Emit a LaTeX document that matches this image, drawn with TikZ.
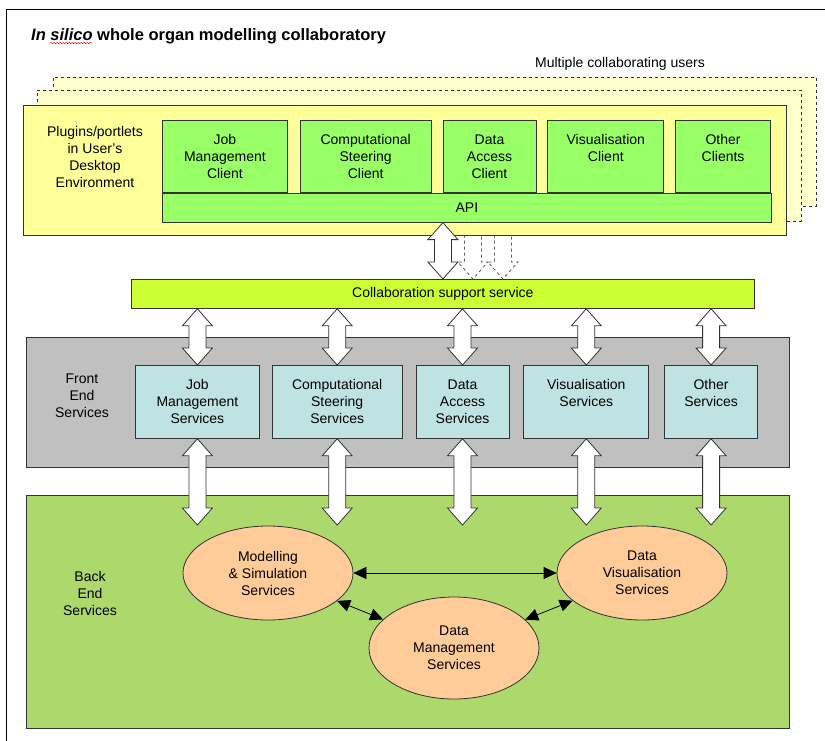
\documentclass[tikz,border=0pt]{standalone}
\usepackage{fontspec}
\setmainfont{Liberation Sans}
\usepackage{tikz}
\usetikzlibrary{arrows.meta,positioning,shapes.geometric,calc,decorations.pathmorphing}
\definecolor{userfill}{HTML}{FFFF99}
\definecolor{ghostfill}{HTML}{FFFFCC}
\definecolor{clientgreen}{HTML}{99FF66}
\definecolor{collabgreen}{HTML}{CCFF33}
\definecolor{frontgrey}{HTML}{C0C0C0}
\definecolor{svccyan}{HTML}{BFE3E3}
\definecolor{backgreen}{HTML}{ADD86C}
\definecolor{peach}{HTML}{FFCC99}
\definecolor{bk80}{HTML}{333333}
\newcommand{\boxfont}{\fontsize{14}{17}\selectfont}
\tikzset{
  panel/.style={rectangle, draw=bk80, fill=#1, line width=0.8pt,
    anchor=north west, inner sep=0pt},
  ghostbox/.style={rectangle, draw=bk80, dashed, fill=ghostfill,
    line width=0.8pt, anchor=north west, inner sep=0pt},
  clientbox/.style={rectangle, draw=bk80, fill=clientgreen, line width=0.8pt,
    minimum height=72pt, font=\boxfont, align=center, inner sep=0pt},
  svcbox/.style={rectangle, draw=bk80, fill=svccyan, line width=0.8pt,
    minimum height=73pt, font=\boxfont, align=center, inner sep=0pt},
  svcellipse/.style={ellipse, draw=bk80, fill=peach, line width=0.8pt,
    minimum width=170pt, minimum height=94pt, font=\boxfont, align=center,
    inner sep=0pt},
  sidelabel/.style={font=\boxfont, align=center},
  linkarrow/.style={{Triangle[length=13pt,width=12pt]}-{Triangle[length=13pt,width=12pt]},
    line width=0.8pt, black},
  dblarrow/.style={draw=bk80, fill=white, line width=0.8pt,
    to path={let \p1=(\tikztostart), \p2=(\tikztotarget) in
      -- (\x1+15pt,\y1-17pt) -- (\x1+8.5pt,\y1-17pt) -- (\x1+8.5pt,\y2+17pt)
      -- (\x1+15pt,\y2+17pt) -- (\x1,\y2) -- (\x1-15pt,\y2+17pt)
      -- (\x1-8.5pt,\y2+17pt) -- (\x1-8.5pt,\y1-17pt) -- (\x1-15pt,\y1-17pt)
      -- cycle}},
  ghostarrow/.style={dblarrow, dashed, draw=bk80!80},
}

\begin{document}
\begin{tikzpicture}[x=1pt, y=-1pt]
  \useasboundingbox[fill=white] (0,0) rectangle (825,740);
  \draw[line width=0.8pt, black] (6,745) -- (6,9) -- (830,9);
  % title
  \node[anchor=base west, inner sep=0pt,
    font=\fontsize{16.5}{20}\selectfont\bfseries] (title) at (31,40)
    {\textit{In silico} whole organ modelling collaboratory};
  \draw[red, decorate, decoration={snake, amplitude=0.7pt, segment length=3pt}]
    ([xshift=19.3pt,yshift=-3pt]title.base west) -- ([xshift=61.5pt,yshift=-3pt]title.base west);
  \node[font=\boxfont] (multi) at (620,64) {Multiple collaborating users};

  % user desktops
  \node[ghostbox, minimum width=763pt, minimum height=129pt] (user3) at (53,77) {};
  \node[ghostbox, minimum width=764pt, minimum height=131pt] (user2) at (37,90) {};
  \node[panel=collabgreen, minimum width=623pt, minimum height=29pt] (collab) at (131,279)
    {\boxfont Collaboration support service};
  \coordinate (ghostA) at ([xshift=30pt]collab.north);
  \coordinate (ghostB) at ([xshift=60pt]collab.north);
  \draw[ghostarrow] (ghostB |- user3.south) to (ghostB);
  \draw[ghostarrow] (ghostA |- user3.south) to (ghostA);
  \node[panel=userfill, minimum width=763pt, minimum height=130pt] (user) at (23,105) {};
  \node[sidelabel] (pluglbl) at (95,157) {Plugins/portlets\\in User's\\Desktop\\Environment};
  \node[clientbox, minimum width=125pt, anchor=north west] (jmc) at (162,120) {Job\\Management\\Client};
  \node[clientbox, minimum width=131pt, right=12pt of jmc] (csc) {Computational\\Steering\\Client};
  \node[clientbox, minimum width=93pt, right=11pt of csc] (dac) {Data\\Access\\Client};
  \node[clientbox, minimum width=116pt, right=11pt of dac] (vc) {Visualisation\\Client\\~};
  \node[clientbox, minimum width=95pt, right=11pt of vc] (oc) {Other\\Clients\\~};
  \node[panel=clientgreen, minimum width=609pt, minimum height=29pt] (api) at (jmc.south west)
    {\boxfont API};
  \draw[dblarrow] (collab.north |- api.south) to (collab.north);

  % front end
  \node[panel=frontgrey, minimum width=763pt, minimum height=130pt] (front) at (26,337) {};
  \node[sidelabel] (frontlbl) at (82,396) {Front\\End\\Services};
  \node[svcbox, minimum width=124pt, anchor=north west] (jms) at (135,365) {Job\\Management\\Services};
  \node[svcbox, minimum width=130pt, right=12pt of jms] (css) {Computational\\Steering\\Services};
  \node[svcbox, minimum width=93pt, right=13pt of css] (das) {Data\\Access\\Services};
  \node[svcbox, minimum width=125pt, right=14pt of das] (vss) {Visualisation\\Services\\~};
  \node[svcbox, minimum width=93pt, right=15pt of vss] (oss) {Other\\Services\\~};

  % back end
  \node[panel=backgreen, minimum width=763pt, minimum height=233pt] (back) at (26,495) {};
  \node[sidelabel] (backlbl) at (90,593) {Back\\End\\Services};
  \node[svcellipse] (model) at (268,573) {Modelling\\\& Simulation\\Services};
  \node[svcellipse] (dvis) at (642,573) {Data\\Visualisation\\Services};
  \node[svcellipse, minimum height=102pt] (dmgmt) at (454,648) {Data\\Management\\Services};
  \draw[linkarrow] (model.east) -- (dvis.west);
  \draw[linkarrow] (model) -- (dmgmt);
  \draw[linkarrow] (dmgmt) -- (dvis);

  % block arrows
  \coordinate (tipline) at (0,525);
  \draw[dblarrow] (jms.north |- collab.south) to (jms.north);
  \draw[dblarrow] (css.north |- collab.south) to (css.north);
  \draw[dblarrow] (das.north |- collab.south) to (das.north);
  \draw[dblarrow] (vss.north |- collab.south) to (vss.north);
  \draw[dblarrow] (oss.north |- collab.south) to (oss.north);
  \draw[dblarrow] (jms.south) to (jms.south |- tipline);
  \draw[dblarrow] (css.south) to (css.south |- tipline);
  \draw[dblarrow] (das.south) to (das.south |- tipline);
  \draw[dblarrow] (vss.south) to (vss.south |- tipline);
  \draw[dblarrow] (oss.south) to (oss.south |- tipline);
\end{tikzpicture}
\end{document}
